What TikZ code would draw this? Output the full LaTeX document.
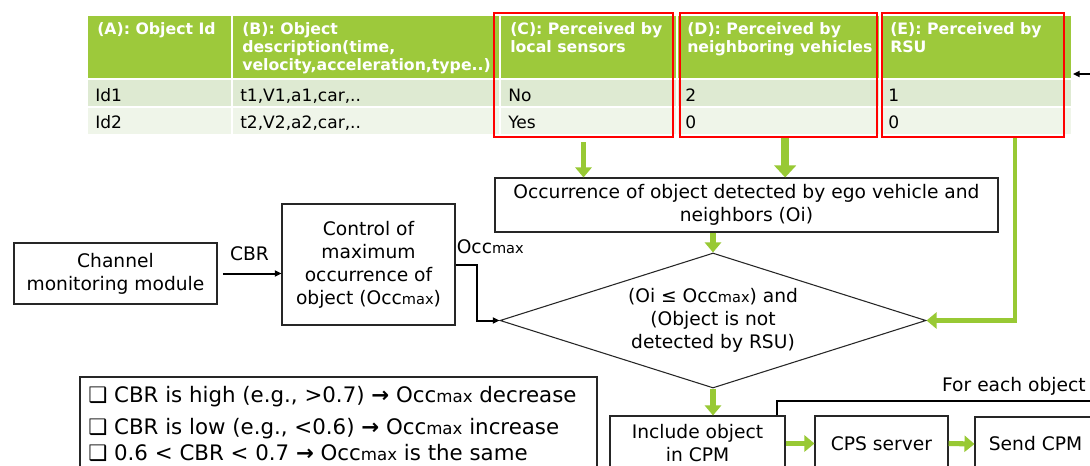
\documentclass[tikz,border=0pt]{standalone}
\usepackage{fontspec}
\setmainfont{DejaVu Sans}
\usepackage{graphicx}
\usepackage{tikz}
\usetikzlibrary{arrows.meta,positioning,shapes,fit}

\definecolor{hdrgreen}{RGB}{157,201,59}
\definecolor{rowone}{RGB}{222,234,210}
\definecolor{rowtwo}{RGB}{239,245,233}
\definecolor{arrgreen}{RGB}{152,201,52}
\definecolor{frred}{RGB}{255,0,0}
\newcommand{\occmax}{Occ\scalebox{0.78}{max}}

\begin{document}
\begin{tikzpicture}[
  x=0.75pt, y=-0.75pt,
  box/.style={rectangle, draw=black!85, line width=0.8pt, inner sep=0pt, align=center, font=\fontsize{14}{17.25}\selectfont},
  hcell/.style={rectangle, fill=hdrgreen, draw=white, line width=1.5pt, inner sep=0pt},
  cell/.style={rectangle, draw=white, line width=1.5pt, inner sep=0pt},
  htext/.style={anchor=north west, inner sep=0pt, align=left, text=white, font=\bfseries\fontsize{11.8}{13.6}\selectfont},
  ctext/.style={anchor=base west, inner sep=0pt, font=\fontsize{12.8}{15}\selectfont},
  redframe/.style={rectangle, draw=frred, line width=1.6pt, inner sep=0pt},
  lbl/.style={inner sep=0pt, font=\fontsize{14}{17}\selectfont},
  ruletext/.style={anchor=base west, inner sep=0pt, font=\fontsize{16}{19.5}\selectfont},
  garrow/.style={-{Triangle[length=7.5pt, width=12pt]}, arrgreen, line width=3.8pt},
  barrow/.style={-{Triangle[length=5pt, width=4.5pt]}, line width=1.5pt},
  bline/.style={line width=1.5pt}
]

\path[fill=white] (0,0) rectangle (1090,465);
\useasboundingbox (0,0) rectangle (1090,465);

% object table
\foreach \col/\xl/\xr/\hd/\va/\vb in {
  A/87/232/{(A): Object Id}/Id1/Id2,
  B/232/500/{(B): Object\\description(time,\\velocity,acceleration,type..)}/{t1,V1,a1,car,..}/{t2,V2,a2,car,..},
  C/500/677/{(C): Perceived by\\local sensors}/No/Yes,
  D/677/880/{(D): Perceived by\\neighboring vehicles}/2/0,
  E/880/1072/{(E): Perceived by\\RSU}/1/0}{
  \node[hcell, fit={(\xl,15) (\xr,79)}] (h\col) {};
  \node[cell, fill=rowone, fit={(\xl,79) (\xr,107)}] (p\col) {};
  \node[cell, fill=rowtwo, fit={(\xl,107) (\xr,135)}] (q\col) {};
  \node[htext] (t\col) at (\xl+10,22) {\hd};
  \node[ctext] (a\col) at (\xl+8,101) {\va};
  \node[ctext] (b\col) at (\xl+8,128) {\vb};
}

\node[redframe, fit={(494,13) (673,137)}] (frC) {};
\node[redframe, fit={(680,13) (877,137)}] (frD) {};
\node[redframe, fit={(882,13) (1064,137)}] (frE) {};

\node[box, minimum width=377.25pt, minimum height=40.5pt] (occ) at (746.5,205) {Occurrence of object detected by ego vehicle and\\neighbors (Oi)};
\node[box, diamond, shape aspect=3.16, minimum width=319.5pt, minimum height=101.25pt] (dec) at (713,320.5) {(Oi ≤ \occmax) and\\(Object is not\\detected by RSU)};

\node[box, minimum width=152.25pt, minimum height=45.75pt] (chan) at (115.5,273.5) {Channel\\monitoring module};
\node[box, minimum width=129.75pt, minimum height=90.75pt] (ctrl) at (368.5,264.5) {Control of\\maximum\\occurrence of\\object (\occmax)};

\node[box, minimum width=131.25pt, minimum height=41.25pt] (inc) at (697.5,443.5) {Include object\\in CPM};
\node[box, minimum width=99.75pt, minimum height=41.25pt] (cps) at (881.5,443.5) {CPS server};
\node[box, minimum width=90.75pt, minimum height=40.5pt] (send) at (1035.5,444) {Send CPM};

\node[box, fit={(80,377) (597,480)}] (rulebox) {};
\node[ruletext] (r1) at (88,402.5) {❑ CBR is high (e.g., >0.7) \textbf{→} \occmax{} decrease};
\node[ruletext] (r2) at (88,434.5) {❑ CBR is low (e.g., <0.6) \textbf{→} \occmax{} increase};
\node[ruletext] (r3) at (88,460.5) {❑ 0.6 < CBR < 0.7 \textbf{→} \occmax{} is the same};

\node[lbl, anchor=base east] (each) at (1086,391) {For each object};
\coordinate (loopout) at (1090,401);
\coordinate (backin) at (1090,74);

\draw[garrow, shorten <=3pt] (frC.south) -- (frC.south |- occ.north);
\draw[garrow, line width=6pt, -{Triangle[length=9pt, width=16pt]}] ([xshift=5pt]frD.south) -- ([xshift=5pt]frD.south |- occ.north);
\draw[garrow, line width=3.3pt] ([xshift=31.5pt]frE.south) |- (dec.east);
\draw[garrow] (dec.north |- occ.south) -- (dec.north);
\draw[garrow] (dec.south) -- (dec.south |- inc.north);
\draw[garrow] (inc.east) -- (cps.west);
\draw[garrow] (cps.east) -- (send.west);

\draw[barrow, shorten <=4pt] (chan.east) -- node[lbl, above=9pt] (cbr) {CBR} (chan.east -| ctrl.west);
\draw[barrow] (ctrl.east) -- ++(21,0) |- (dec.west);
\node[lbl, anchor=south west] (occlbl) at ([shift={(1,-10)}]ctrl.east) {\occmax};
\draw[bline] ([xshift=-6.75pt]inc.north east) |- (loopout);
\draw[barrow] (backin) -- (backin -| hE.east);

\end{tikzpicture}
\end{document}
